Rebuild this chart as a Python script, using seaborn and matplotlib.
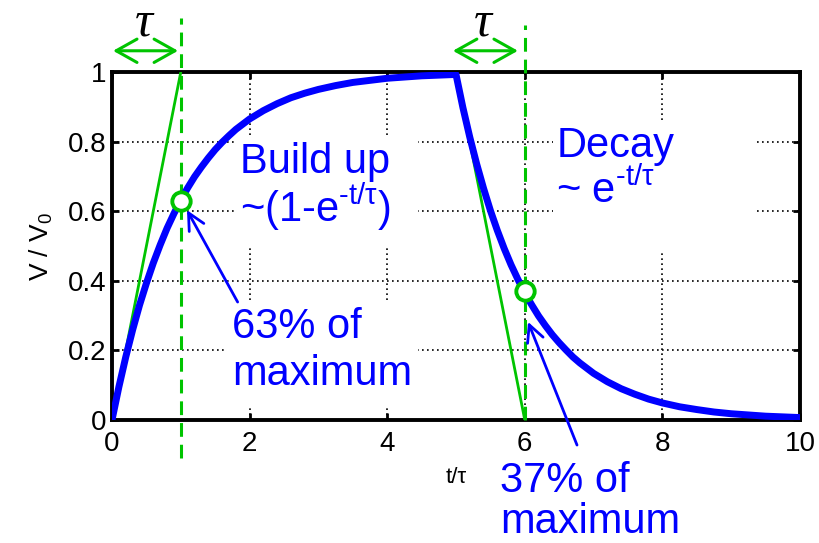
import matplotlib
matplotlib.use("Agg")
import matplotlib.pyplot as plt
from matplotlib.patches import Rectangle
import seaborn as sns

# Normalised capacitor voltage V/V0 against t/tau:
# charging for five time constants, then discharging for five more.
t_build = [0.0, 0.1, 0.2, 0.3, 0.4, 0.5, 0.6, 0.7, 0.8, 0.9, 1.0,
           1.1, 1.2, 1.3, 1.4, 1.5, 1.6, 1.7, 1.8, 1.9, 2.0,
           2.2, 2.4, 2.6, 2.8, 3.0, 3.25, 3.5, 3.75, 4.0, 4.5, 5.0]
v_build = [0.000, 0.095, 0.181, 0.259, 0.330, 0.393, 0.451, 0.503, 0.551,
           0.593, 0.632, 0.667, 0.699, 0.727, 0.753, 0.777, 0.798, 0.817,
           0.835, 0.850, 0.865, 0.889, 0.909, 0.926, 0.939, 0.950, 0.961,
           0.970, 0.976, 0.982, 0.989, 0.993]
t_decay = [5.1, 5.2, 5.3, 5.4, 5.5, 5.6, 5.7, 5.8, 5.9, 6.0,
           6.1, 6.2, 6.3, 6.4, 6.5, 6.6, 6.7, 6.8, 6.9, 7.0,
           7.2, 7.4, 7.6, 7.8, 8.0, 8.25, 8.5, 8.75, 9.0, 9.5, 10.0]
v_decay = [0.898, 0.813, 0.736, 0.666, 0.602, 0.545, 0.493, 0.446, 0.404,
           0.365, 0.331, 0.299, 0.271, 0.245, 0.222, 0.201, 0.181, 0.164,
           0.149, 0.134, 0.110, 0.090, 0.074, 0.060, 0.049, 0.038, 0.030,
           0.023, 0.018, 0.011, 0.007]

# initial-slope tangents, each reaching the final value after one tau
tangent_build_t = [0, 1]
tangent_build_v = [0, 1]
tangent_decay_t = [5, 6]
tangent_decay_v = [1, 0]

# one time constant into each phase
marker_t = [1, 6]
marker_v = [0.63, 0.37]

x_ticks = [0, 2, 4, 6, 8, 10]
x_tick_labels = ["0", "2", "4", "6", "8", "10"]
y_ticks = [0, 0.2, 0.4, 0.6, 0.8, 1]
y_tick_labels = ["0", "0.2", "0.4", "0.6", "0.8", "1"]

BLUE = "#0000ff"
GREEN = "#00c400"

sns.set_theme(style="white")
plt.rcParams["font.family"] = ["Liberation Sans", "DejaVu Sans"]
plt.rcParams["mathtext.fontset"] = "custom"
plt.rcParams["mathtext.rm"] = "Liberation Sans"
plt.rcParams["mathtext.it"] = "Liberation Sans:italic"
plt.rcParams["mathtext.default"] = "regular"

fig = plt.figure(figsize=(8.19, 5.43), dpi=100)
ax = fig.add_axes([112 / 819, 123 / 543, 688 / 819, 348 / 543])

t_all = t_build + t_decay
v_all = v_build + v_decay

# tangents
sns.lineplot(x=tangent_build_t, y=tangent_build_v, color=GREEN, lw=2.0,
             ax=ax, zorder=3, sort=False)
sns.lineplot(x=tangent_decay_t, y=tangent_decay_v, color=GREEN, lw=2.0,
             ax=ax, zorder=3, sort=False)

# response curve
sns.lineplot(x=t_all, y=v_all, color=BLUE, lw=5, ax=ax, zorder=4,
             sort=False, solid_joinstyle="round")

# one-tau markers (dashed verticals)
dash = (0, (4.5, 2.6))
ax.plot([1, 1], [-0.11, 1.155], color=GREEN, lw=2.2, ls=dash,
        clip_on=False, zorder=3)
ax.plot([6, 6], [0, 1.135], color=GREEN, lw=2.2, ls=dash,
        clip_on=False, zorder=3)

sns.scatterplot(x=marker_t, y=marker_v, s=175, facecolor="white",
                edgecolor=GREEN, linewidth=2.8, ax=ax, zorder=6)

# tau spans above the plot
for x0, x1 in [(0.015, 0.96), (4.955, 5.90)]:
    ax.annotate("", xy=(x1, 1.061), xytext=(x0, 1.061),
                annotation_clip=False,
                arrowprops=dict(arrowstyle="<->, head_length=0.75, head_width=0.42",
                                color=GREEN, lw=2.2, mutation_scale=20,
                                shrinkA=0, shrinkB=0))
for xc in [0.458, 5.393]:
    ax.text(xc, 1.106, "\u03c4", family=["Liberation Serif", "DejaVu Serif"],
            style="italic", fontsize=36, ha="center", va="baseline",
            color="black", clip_on=False)

# white panels behind the in-plot labels hide the grid there
for (x0, x1, y0, y1) in [(1.817, 4.448, 0.497, 0.813),
                         (1.670, 4.448, 0.043, 0.339),
                         (6.410, 9.350, 0.483, 0.856)]:
    ax.add_patch(Rectangle((x0, y0), x1 - x0, y1 - y0, facecolor="white",
                           edgecolor="none", zorder=0.9))

# annotations
txt = dict(color=BLUE, fontsize=30, va="baseline", ha="left", zorder=2)
sup = "$^{\\text{-t/\u03c4}}$"
ax.text(1.86, 0.710, "Build up", **txt)
ax.text(1.86, 0.569, "~(1-e" + sup + ")", **txt)
ax.text(1.744, 0.236, "63% of", **txt)
ax.text(1.744, 0.101, "maximum", **txt)
ax.text(6.468, 0.756, "Decay", **txt)
ax.text(6.453, 0.624, "~ e" + sup, **txt)
ax.text(5.64, -0.207, "37% of", clip_on=False, **txt)
ax.text(5.64, -0.326, "maximum", clip_on=False, **txt)

arrow = dict(arrowstyle="->, head_length=0.6, head_width=0.3", color=BLUE,
             lw=2.0, mutation_scale=20, shrinkA=0, shrinkB=0)
ax.annotate("", xy=(1.09, 0.603), xytext=(1.826, 0.339), arrowprops=arrow,
            annotation_clip=False)
ax.annotate("", xy=(6.047, 0.282), xytext=(6.759, -0.072), arrowprops=arrow,
            annotation_clip=False)

# axes styling
ax.set_xlim(0, 10)
ax.set_ylim(0, 1)
ax.set_xticks(x_ticks)
ax.set_xticklabels(x_tick_labels)
ax.set_yticks(y_ticks)
ax.set_yticklabels(y_tick_labels)
ax.tick_params(axis="both", which="both", direction="in", length=5, width=2,
               color="black", labelcolor="black", labelsize=20,
               top=True, right=True, bottom=True, left=True)
ax.tick_params(axis="x", pad=8)
ax.tick_params(axis="y", pad=4)
ax.grid(True, color="black", ls=(0, (1, 2)), lw=1.2, zorder=0.5)
ax.set_axisbelow(True)
for sp in ax.spines.values():
    sp.set_visible(True)
    sp.set_color("black")
    sp.set_linewidth(2.8)

ax.set_xlabel("t/\u03c4", fontsize=16, labelpad=7, color="black")
ax.set_ylabel("V / V$_0$", fontsize=19, labelpad=9, color="black")

fig.savefig("out.png", dpi=100, facecolor="white")
